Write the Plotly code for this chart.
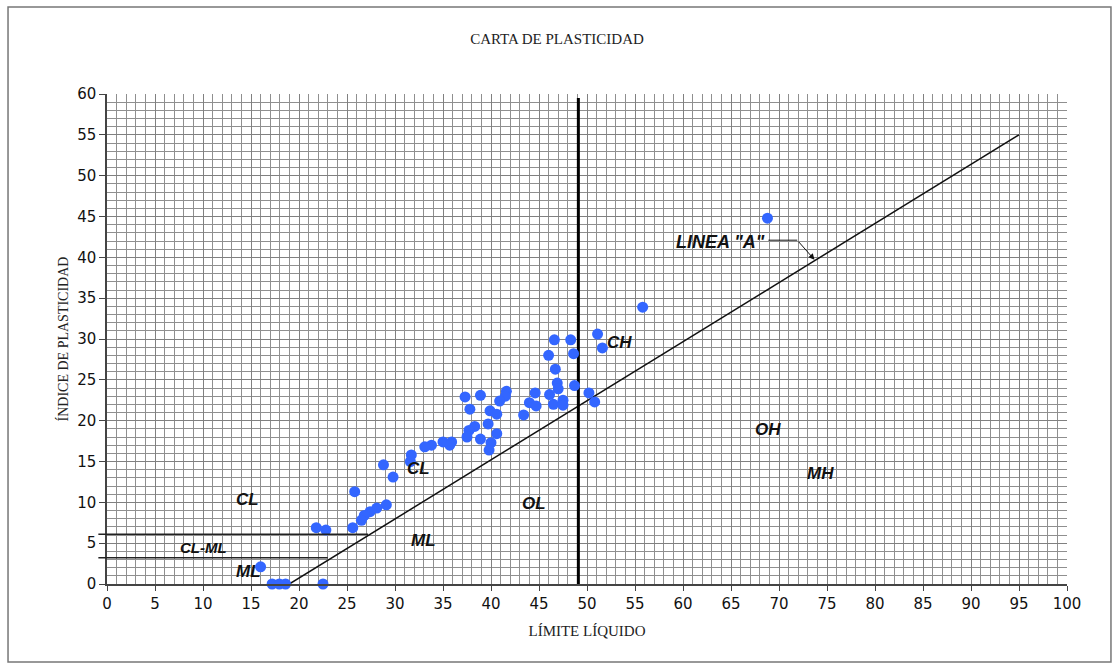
import plotly.graph_objects as go

# Soil samples: liquid limit (LL) and plasticity index (PI)
limite_liquido = [68.8, 55.8, 51.1, 51.6, 46.6, 48.3, 46.0, 48.6, 46.7, 46.9,
                  47.0, 48.7, 50.2, 50.8, 44.6, 46.1, 46.5, 47.5, 47.5, 44.0,
                  44.7, 43.4, 41.6, 41.5, 40.9, 38.9, 37.3, 37.8, 39.9, 40.6,
                  39.7, 38.3, 37.7, 37.5, 38.9, 40.6, 40.0, 39.8, 35.9, 35.0,
                  35.7, 33.8, 33.1, 31.7, 31.6, 28.8, 29.8, 25.8, 29.1, 28.1,
                  27.4, 26.8, 26.5, 25.6, 21.8, 22.8, 16.0, 17.2, 17.95, 18.6,
                  22.5]
indice_plasticidad = [44.8, 33.9, 30.6, 28.9, 29.9, 29.9, 28.0, 28.2, 26.3, 24.6,
                      23.9, 24.3, 23.4, 22.3, 23.4, 23.2, 22.0, 22.5, 21.9, 22.2,
                      21.8, 20.7, 23.6, 23.0, 22.4, 23.1, 22.9, 21.4, 21.2, 20.8,
                      19.6, 19.3, 18.8, 18.0, 17.75, 18.4, 17.3, 16.4, 17.4, 17.4,
                      17.0, 17.0, 16.8, 15.8, 15.0, 14.6, 13.1, 11.3, 9.7, 9.3,
                      8.85, 8.4, 7.8, 6.9, 6.9, 6.6, 2.1, 0.0, 0.0, 0.0,
                      0.0]

# "A" line and chart boundaries
linea_a_x = [19, 95]
linea_a_y = [0, 55]
limite_ll = 49.1
limite_ll_top = 59.5
cl_ml_sup = 6.1
cl_ml_sup_fin = 27.2
cl_ml_inf = 3.2
cl_ml_inf_fin = 23.0

# Zone labels
zonas = ["CH", "OH", "MH", "OL", "CL", "CL", "ML", "CL-ML", "ML"]
zonas_x = [53.4, 68.9, 74.3, 44.5, 32.4, 14.6, 33.0, 10.1, 14.7]
zonas_y = [29.6, 18.9, 13.5, 9.9, 14.2, 10.3, 5.3, 4.5, 1.5]

x_ticks = list(range(0, 101, 5))
y_ticks = list(range(0, 61, 5))

SANS = "DejaVu Sans, Verdana, sans-serif"
LABEL = "Liberation Sans, Arial, sans-serif"
SERIF = "Liberation Serif, Times New Roman, serif"

fig = go.Figure()

fig.add_trace(go.Scatter(
    x=linea_a_x, y=linea_a_y, mode="lines",
    line=dict(color="#111111", width=1.5), hoverinfo="skip", showlegend=False))

fig.add_trace(go.Scatter(
    x=[limite_ll, limite_ll], y=[0, limite_ll_top], mode="lines",
    line=dict(color="#000000", width=3), hoverinfo="skip", showlegend=False))

fig.add_trace(go.Scatter(
    x=limite_liquido, y=indice_plasticidad, mode="markers",
    marker=dict(color="#3366FF", size=11, line=dict(width=0)),
    cliponaxis=False, showlegend=False))

# Leader line for the "A" line label
fig.add_trace(go.Scatter(
    x=[68.9, 71.9], y=[42.1, 42.1], mode="lines",
    line=dict(color="#111111", width=1), hoverinfo="skip", showlegend=False))
fig.add_annotation(
    x=73.7, y=39.7, ax=71.9, ay=42.1, axref="x", ayref="y", xref="x", yref="y",
    text="", showarrow=True, arrowhead=2, arrowsize=1.2, arrowwidth=1,
    arrowcolor="#111111")
fig.add_annotation(
    x=63.9, y=41.9, xref="x", yref="y", text='<b><i>LINEA "A"</i></b>',
    showarrow=False, font=dict(family=LABEL, size=18, color="#111111"))

for z, zx, zy in zip(zonas, zonas_x, zonas_y):
    fig.add_annotation(
        x=zx, y=zy, xref="x", yref="y", text="<b><i>%s</i></b>" % z,
        showarrow=False,
        font=dict(family=LABEL, size=15 if z == "CL-ML" else 17, color="#111111"))

# CL-ML band boundaries, drawn from just left of the axis
for yv, xe in [(cl_ml_sup, cl_ml_sup_fin), (cl_ml_inf, cl_ml_inf_fin)]:
    fig.add_shape(type="line", xref="paper", yref="y",
                  x0=-0.009, x1=xe / 100.0, y0=yv, y1=yv,
                  line=dict(color="#222222", width=1.5))

# Outer frame
fig.add_shape(type="rect", xref="paper", yref="paper",
              x0=-0.1031, x1=1.0458, y0=-0.159, y1=1.1776,
              line=dict(color="#777777", width=1.5))

fig.update_layout(
    width=1114, height=666,
    margin=dict(l=107, r=47, t=94, b=82),
    paper_bgcolor="white", plot_bgcolor="white",
    title=dict(text="CARTA DE PLASTICIDAD", x=0.5, xanchor="center",
               y=1 - 39 / 666, yanchor="middle",
               font=dict(family=SERIF, size=15, color="#222222")),
    xaxis=dict(
        range=[0, 100], tickvals=x_ticks, ticks="outside", ticklen=5,
        tickcolor="#444444",
        tickfont=dict(family=SANS, size=15, color="#111111"),
        showgrid=True, gridcolor="#808080", gridwidth=1,
        minor=dict(dtick=1, showgrid=True, gridcolor="#8f8f8f", gridwidth=1),
        showline=True, linecolor="#444444", linewidth=1.5, mirror=False,
        zeroline=False, fixedrange=True,
        title=dict(text="LÍMITE LÍQUIDO", standoff=14,
                   font=dict(family=SERIF, size=15, color="#222222"))),
    yaxis=dict(
        range=[0, 60], tickvals=y_ticks, ticks="outside", ticklen=6,
        tickcolor="#444444",
        tickfont=dict(family=SANS, size=15, color="#111111"),
        showgrid=True, gridcolor="#808080", gridwidth=1,
        minor=dict(dtick=1, showgrid=True, gridcolor="#8f8f8f", gridwidth=1),
        showline=True, linecolor="#444444", linewidth=1.5,
        zeroline=False, fixedrange=True,
        title=dict(text="ÍNDICE DE PLASTICIDAD", standoff=5,
                   font=dict(family=SERIF, size=14, color="#222222"))),
)

fig.write_html("out.html")
